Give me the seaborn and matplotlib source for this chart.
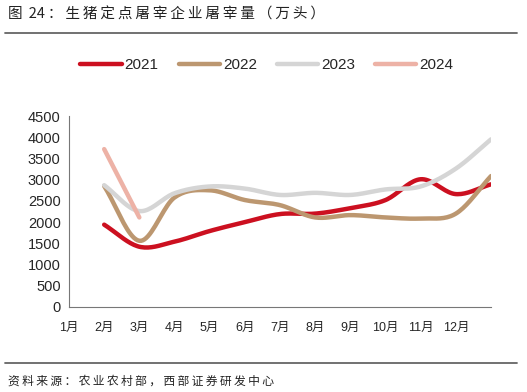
import numpy as np
import pandas as pd
import matplotlib
matplotlib.use("Agg")
import matplotlib.pyplot as plt
import seaborn as sns

# data (one point per month slot)
months = ["1月", "2月", "3月", "4月", "5月", "6月", "7月", "8月", "9月", "10月", "11月", "12月"]
y2021 = [1940, 1420, 1540, 1790, 2000, 2190, 2200, 2330, 2520, 3010, 2660, 2890]
y2022 = [2850, 1560, 2580, 2750, 2520, 2400, 2110, 2165, 2110, 2085, 2200, 3085]
y2023 = [2870, 2260, 2680, 2840, 2790, 2640, 2690, 2640, 2770, 2840, 3260, 3950]
y2024 = [3720, 2110]
colors = {"2021": "#CC1020", "2022": "#BC9770", "2023": "#D5D5D5", "2024": "#EDB2A6"}
title = "图 24：生猪定点屠宰企业屠宰量（万头）"
source = "资料来源：农业农村部，西部证券研发中心"


def smooth(xs, ys, n=20):
    # Catmull-Rom curve through the points, like Excel's smoothed line
    p = np.column_stack([xs, ys]).astype(float)
    if len(p) < 3:
        return p[:, 0], p[:, 1]
    p = np.vstack([2 * p[0] - p[1], p, 2 * p[-1] - p[-2]])
    out = []
    t = np.linspace(0, 1, n, endpoint=False)[:, None]
    for i in range(1, len(p) - 2):
        p0, p1, p2, p3 = p[i - 1], p[i], p[i + 1], p[i + 2]
        seg = 0.5 * ((2 * p1) + (-p0 + p2) * t + (2 * p0 - 5 * p1 + 4 * p2 - p3) * t ** 2
                     + (-p0 + 3 * p1 - 3 * p2 + p3) * t ** 3)
        out.append(seg)
    out.append(p[-2][None, :])
    out = np.vstack(out)
    return out[:, 0], out[:, 1]


def spaced(s):
    # loosen the CJK text a little, like the original report font (keep digits together)
    out = s[0]
    for a, b in zip(s, s[1:]):
        if not (a.isascii() and b.isascii()):
            out += "\u2009"
        out += b
    return out


frames = []
for name, vals in [("2021", y2021), ("2022", y2022), ("2023", y2023), ("2024", y2024)]:
    xs = np.arange(1, len(vals) + 1)
    sx, sy = smooth(xs, vals)
    frames.append(pd.DataFrame({"x": sx, "y": sy, "year": name}))
df = pd.concat(frames, ignore_index=True)

sns.set_theme(style="white")
plt.rcParams["font.family"] = ["Liberation Sans", "Noto Sans CJK SC", "DejaVu Sans"]

fig = plt.figure(figsize=(5.27, 3.92), dpi=100)
ax = fig.add_axes([69 / 527, 1 - 307 / 392, (491 - 69) / 527, (307 - 116) / 392])

sns.lineplot(data=df, x="x", y="y", hue="year", palette=colors, sort=False,
             linewidth=3.2, ax=ax, estimator=None, units="year")
ax.set_xlim(0, 12)
ax.set_ylim(0, 4500)
ax.set_yticks(range(0, 4501, 500))
ax.xaxis.remove_overlapping_locs = False
ax.set_xticks(range(1, 13))
ax.set_xticklabels([])
ax.set_xticks(range(0, 12), minor=True)
ax.set_xticklabels(months, minor=True, family=["Liberation Sans", "Noto Sans CJK SC"], fontsize=9)
ax.tick_params(axis="x", which="major", direction="in", length=4, color="#777777", width=0.8)
ax.tick_params(axis="x", which="minor", length=0, pad=11)
ax.tick_params(axis="y", direction="in", length=4, color="#777777", width=0.8, labelsize=10.5, pad=6)
ax.set_xlabel("")
ax.set_ylabel("")
for s in ["top", "right"]:
    ax.spines[s].set_visible(False)
for s in ["left", "bottom"]:
    ax.spines[s].set_color("#777777")
    ax.spines[s].set_linewidth(0.8)

h, l = ax.get_legend_handles_labels()
ax.legend(h, l, loc="center", bbox_to_anchor=(0.5 * (69 + 491) / 527 - 0.025, 1 - 65 / 392),
          bbox_transform=fig.transFigure, ncol=4, frameon=False, fontsize=11,
          handlelength=2.7, handletextpad=0.2, columnspacing=1.3)

fig.text(8 / 527, 1 - 15 / 392, spaced(title), fontsize=10.5,
         family=["Noto Sans CJK SC", "DejaVu Sans"], va="center", ha="left", color="#222222")
fig.add_artist(plt.Line2D([5 / 527, 517 / 527], [1 - 33 / 392, 1 - 33 / 392], color="#666666", lw=1.3))
fig.add_artist(plt.Line2D([5 / 527, 517 / 527], [1 - 363 / 392, 1 - 363 / 392], color="#666666", lw=1.3))
fig.text(8 / 527, 1 - 381 / 392, spaced(source), fontsize=8.5,
         family=["Noto Sans CJK SC", "DejaVu Sans"], va="center", ha="left", color="#222222")

fig.savefig("out.png", dpi=100)
